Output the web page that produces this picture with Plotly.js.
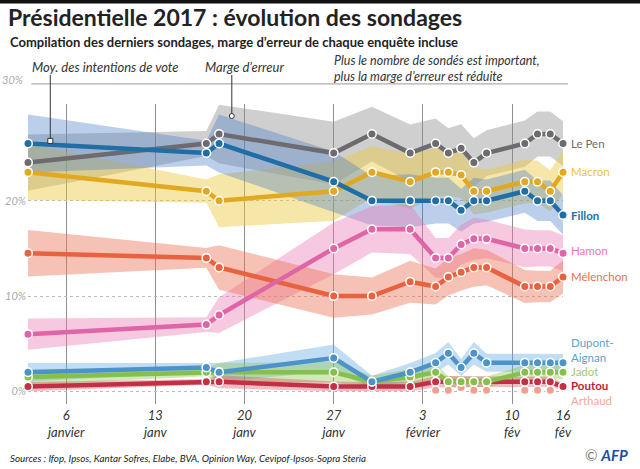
<!DOCTYPE html>
<html>
<head>
<meta charset="utf-8">
<script src="https://cdn.plot.ly/plotly-3.0.1.min.js"></script>
<style>
  html, body { margin: 0; padding: 0; background: #fff; }
  #chart { width: 640px; height: 469px; }
</style>
</head>
<body>
<div id="chart"></div>
<script>
// jours sur l'échelle du graphique (jour de janvier, février = 31 + n)
const jours = [3, 17, 18, 27, 30, 33, 35, 36, 37, 38, 39, 42, 43, 44, 45];
const tickJours = [6, 13, 20, 27, 34, 41, 45];
const tickTextes = ['6<br>janvier', '13<br>janv', '20<br>janv', '27<br>janv', '3<br>février', '10<br>fév', '16<br>fév'];
const yTicks = [0, 10, 20];
const yTickTextes = ['0%', '10%', '20%'];

// marge d'erreur de chaque enquête pour un candidat à 25 %
const margeErreur = [3.0, 1.3, 3.0, 3.3, 2.8, 3.0, 2.6, 2.6, 2.5, 2.6, 2.4, 2.4, 2.3, 2.3, 2.3];

const lePen        = [24, 26, 27, 25, 27, 25, 26, 25, 25.5, 24, 25, 26, 27, 27, 26];
const macron       = [23, 21, 20, 21, 23, 22, 23, 23, 22.7, 21, 21, 22, 22, 21, 23];
const fillon       = [26, 25, 26, 22, 20, 20, 20, 20, 19, 20, 20, 21, 20, 20, 18.5];
const hamon        = [6, 7, 8, 15, 17, 17, 14, 14, 15.4, 16, 16, 15, 15, 15, 14.5];
const melenchon    = [14.5, 14, 13, 10, 10, 11.5, 11, 12, 12.5, 13, 13, 11, 11, 11, 12];
const dupontAignan = [2, 2.5, 2, 3.5, 1, 2, 3, 4, 2.5, 4, 3, 3, 3, 3, 3];
const jadot        = [1.5, 2, 2, 2, 1, 1.5, 2, 1, 1, 1, 1, 2, 2, 2, 2];
const poutou       = [0.5, 1, 1, 0.5, 0.5, 0.5, 1, 1, 1, 1, 1, 1, 1, 1, 0.5];
const arthaud      = [null, null, null, null, null, null, 0.1, 0.1, 0.4, 0.1, 0.1, 0.1, 0.1, 0.1, null];

const candidats = [
  { nom: 'Le Pen', v: lePen, ligne: '#6e6b70', bande: 'rgba(140,140,140,0.42)' },
  { nom: 'Macron', v: macron, ligne: '#e1a822', bande: 'rgba(236,200,60,0.45)' },
  { nom: 'Fillon', v: fillon, ligne: '#1f6ea6', bande: 'rgba(80,130,200,0.38)' },
  { nom: 'Hamon', v: hamon, ligne: '#e065a6', bande: 'rgba(235,120,180,0.4)' },
  { nom: 'Mélenchon', v: melenchon, ligne: '#e8623f', bande: 'rgba(235,120,90,0.45)' },
  { nom: 'Dupont-Aignan', v: dupontAignan, ligne: '#4c93c9', bande: 'rgba(100,170,225,0.4)' },
  { nom: 'Jadot', v: jadot, ligne: '#86c04a', bande: 'rgba(140,200,80,0.4)' },
  { nom: 'Poutou', v: poutou, ligne: '#c32f45', bande: 'rgba(210,70,90,0.35)' },
  { nom: 'Arthaud', v: arthaud, ligne: '#f0a08f', bande: null }
];

// marge d'erreur à 95 % : proportionnelle à sqrt(p(1-p))
function bornes(vals) {
  const bas = [], haut = [];
  vals.forEach((v, i) => {
    if (v === null) { bas.push(null); haut.push(null); return; }
    const p = v / 100;
    const m = margeErreur[i] * Math.sqrt(p * (1 - p)) / Math.sqrt(0.25 * 0.75);
    bas.push(Math.max(0, v - m));
    haut.push(v + m);
  });
  return { bas, haut };
}

const traces = [];
candidats.forEach(c => {
  if (!c.bande) return;
  const b = bornes(c.v);
  traces.push({ x: jours, y: b.bas, type: 'scatter', mode: 'lines', line: { width: 0 }, hoverinfo: 'skip', showlegend: false });
  traces.push({ x: jours, y: b.haut, type: 'scatter', mode: 'lines', line: { width: 0 }, fill: 'tonexty', fillcolor: c.bande, hoverinfo: 'skip', showlegend: false });
});

const ordre = ['Arthaud', 'Poutou', 'Jadot', 'Dupont-Aignan', 'Mélenchon', 'Hamon', 'Le Pen', 'Macron', 'Fillon'];
ordre.forEach(nom => {
  const c = candidats.find(k => k.nom === nom);
  traces.push({
    x: jours, y: c.v, type: 'scatter',
    mode: nom === 'Arthaud' ? 'markers' : 'lines+markers',
    name: nom, showlegend: false, cliponaxis: false,
    line: { color: c.ligne, width: 4.5 },
    marker: { color: c.ligne, size: 8.5, line: { color: '#ffffff', width: 1.5 } }
  });
});

// étiquettes à droite
const etiquettes = [
  { t: 'Le Pen', y: 26.0, c: '#6e6b70' },
  { t: 'Macron', y: 23.1, c: '#eebf3c' },
  { t: 'Fillon', y: 18.5, c: '#1f6ea6' },
  { t: 'Hamon', y: 14.8, c: '#e878b4' },
  { t: 'Mélenchon', y: 12.1, c: '#e8704e' },
  { t: 'Dupont-', y: 5.13, c: '#5aa3cc' },
  { t: 'Aignan', y: 3.6, c: '#5aa3cc' },
  { t: 'Jadot', y: 2.08, c: '#a4c86a' },
  { t: 'Poutou', y: 0.56, c: '#b81f38' },
  { t: 'Arthaud', y: -0.96, c: '#f2a898' }
];

const fontBase = 'Lato, "Noto Sans", sans-serif';
const annotations = etiquettes.map(e => ({
  x: 45, y: e.y, xref: 'x', yref: 'y', xanchor: 'left', yanchor: 'middle', xshift: 6,
  text: e.t, showarrow: false, align: 'left',
  font: { family: fontBase, size: 11.5, color: e.c, weight: e.t === 'Poutou' || e.t === 'Fillon' ? 700 : 400 }
}));

const italique = { family: fontBase, size: 13, color: '#333', style: 'italic' };
annotations.push(
  { xref: 'paper', yref: 'paper', x: -0.038, y: 1.2067, xanchor: 'left', yanchor: 'middle', showarrow: false,
    text: 'Compilation des derniers sondages, marge d’erreur de chaque enquête incluse',
    font: { family: fontBase, size: 13, color: '#222', weight: 700 } },
  { xref: 'paper', yref: 'paper', x: 0.003, y: 1.123, xanchor: 'left', yanchor: 'middle', showarrow: false,
    text: 'Moy. des intentions de vote', font: italique },
  { xref: 'paper', yref: 'paper', x: 0.327, y: 1.123, xanchor: 'left', yanchor: 'middle', showarrow: false,
    text: 'Marge d’erreur', font: italique },
  { xref: 'paper', yref: 'paper', x: 0.568, y: 1.1183, xanchor: 'left', yanchor: 'middle', showarrow: false, align: 'left',
    text: 'Plus le nombre de sondés est important,<br>plus la marge d’erreur est réduite',
    font: { family: fontBase, size: 12.5, color: '#333', style: 'italic' } },
  { xref: 'paper', yref: 'paper', x: -0.005, y: 1.08, xanchor: 'right', yanchor: 'middle', showarrow: false,
    text: '30%', font: { family: fontBase, size: 11, color: '#aaa', style: 'italic' } },
  { xref: 'paper', yref: 'paper', x: -0.038, y: -0.18, xanchor: 'left', yanchor: 'middle', showarrow: false,
    text: 'Sources : Ifop, Ipsos, Kantar Sofres, Elabe, BVA, Opinion Way, Cevipof-Ipsos-Sopra Steria',
    font: { family: fontBase, size: 9.8, color: '#222', style: 'italic' } },
  { xref: 'paper', yref: 'paper', x: 1.126, y: -0.17, xanchor: 'right', yanchor: 'middle', showarrow: false,
    text: '<span style="color:#777">© </span><b><i>AFP</i></b>',
    font: { family: fontBase, size: 15, color: '#1a4fa0' } }
);

const shapes = [
  // bandeau noir en haut
  { type: 'rect', xref: 'paper', yref: 'paper', x0: -0.1, x1: 1.2, y0: 1.335, y1: 1.36, fillcolor: '#111', line: { width: 0 } },
  // ligne du haut (30 %)
  { type: 'line', xref: 'paper', yref: 'paper', x0: 0.0064, x1: 1.0094, y0: 1.067, y1: 1.067, line: { color: '#999', width: 1 } },
  // traits des annotations
  { type: 'line', xref: 'x', yref: 'paper', x0: 4.75, x1: 4.75, y0: 0.877, y1: 1.097, line: { color: '#333', width: 1 } },
  { type: 'rect', xref: 'x', yref: 'paper', xsizemode: 'pixel', ysizemode: 'pixel', xanchor: 4.75, yanchor: 0.877,
    x0: -2.5, x1: 2.5, y0: -2.5, y1: 2.5, fillcolor: '#fff', line: { color: '#333', width: 1 } },
  { type: 'line', xref: 'x', yref: 'paper', x0: 19, x1: 19, y0: 0.96, y1: 1.097, line: { color: '#333', width: 1 } },
  { type: 'circle', xref: 'x', yref: 'paper', xsizemode: 'pixel', ysizemode: 'pixel', xanchor: 19, yanchor: 0.96,
    x0: -2.5, x1: 2.5, y0: -2.5, y1: 2.5, fillcolor: '#fff', line: { color: '#333', width: 1 } }
];

const layout = {
  width: 640, height: 469,
  margin: { l: 28, r: 77, t: 104, b: 65 },
  paper_bgcolor: '#fff', plot_bgcolor: '#fff',
  showlegend: false,
  title: {
    text: '<b>Présidentielle 2017 : évolution des sondages</b>',
    x: 0.0125, xanchor: 'left', xref: 'container',
    y: 0.962, yanchor: 'middle', yref: 'container',
    font: { family: fontBase, size: 23, color: '#222' }
  },
  xaxis: {
    range: [3, 45], tickmode: 'array', tickvals: tickJours, ticktext: tickTextes,
    showgrid: true, gridcolor: '#8f8f8f', gridwidth: 1, zeroline: false, showline: false,
    ticks: '', ticklabelstandoff: 2,
    tickfont: { family: fontBase, size: 13, color: '#333', style: 'italic' }
  },
  yaxis: {
    range: [-1.33, 30.15], tickmode: 'array', tickvals: yTicks, ticktext: yTickTextes,
    showgrid: true, gridcolor: '#bbb', griddash: 'dot', gridwidth: 1, zeroline: false, showline: false,
    ticks: '', ticklabelstandoff: 1,
    tickfont: { family: fontBase, size: 11, color: '#aaa', style: 'italic' }
  },
  annotations: annotations,
  shapes: shapes
};

Plotly.newPlot('chart', traces, layout, { staticPlot: true, displayModeBar: false });
</script>
</body>
</html>
